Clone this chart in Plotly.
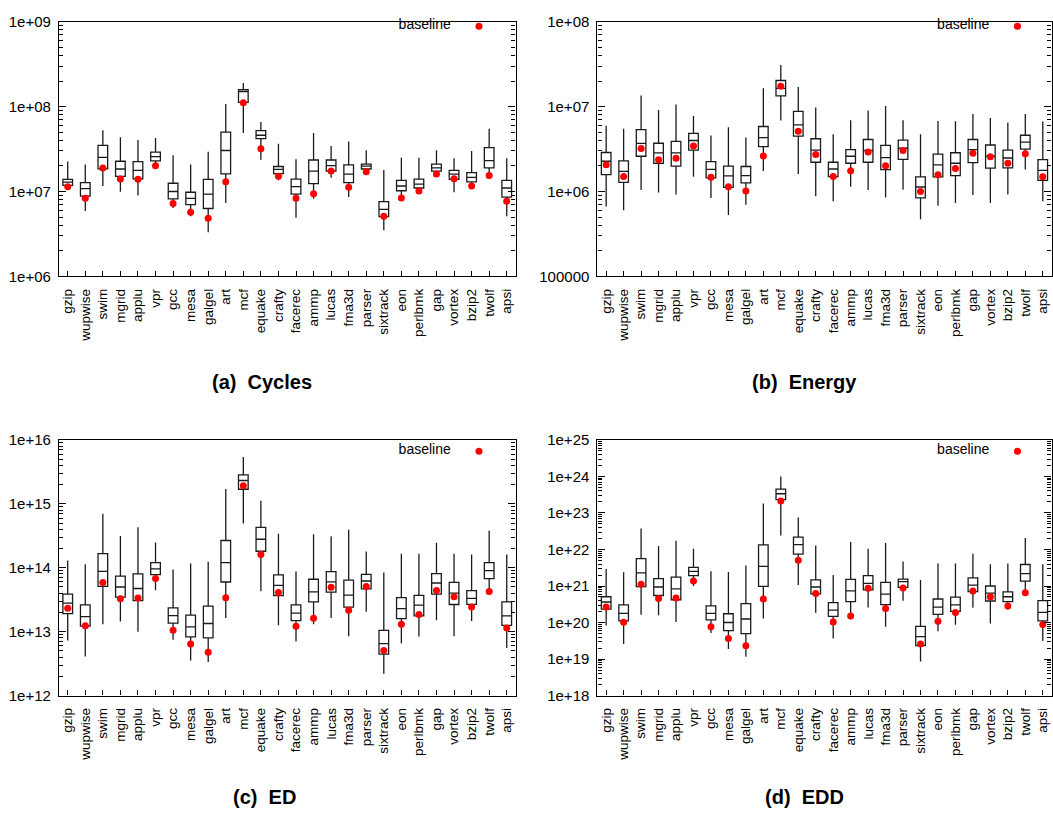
import plotly.graph_objects as go

benchmarks = ["gzip", "wupwise", "swim", "mgrid", "applu", "vpr", "gcc", "mesa", "galgel",
              "art", "mcf", "equake", "crafty", "facerec", "ammp", "lucas", "fma3d", "parser",
              "sixtrack", "eon", "perlbmk", "gap", "vortex", "bzip2", "twolf", "apsi"]

# ---- (a) Cycles ----
cycles_low = [1.1e7, 5.9e6, 1.16e7, 9.9e6, 9.0e6, 1.9e7, 6.4e6, 5.1e6, 3.3e6, 7.3e6, 4.9e7, 2.37e7, 1.36e7,
              4.9e6, 8.2e6, 1.45e7, 8.6e6, 1.62e7, 3.5e6, 8.0e6, 9.6e6, 1.55e7, 9.8e6, 1.1e7, 1.5e7, 5.1e6]
cycles_q1 = [1.18e7, 8.8e6, 1.85e7, 1.51e7, 1.41e7, 2.29e7, 8.2e6, 7.0e6, 6.3e6, 1.61e7, 1.12e8, 4.2e7, 1.62e7,
             9.3e6, 1.24e7, 1.74e7, 1.27e7, 1.84e7, 5.07e6, 1.02e7, 1.1e7, 1.74e7, 1.39e7, 1.3e7, 1.9e7, 8.6e6]
cycles_med = [1.29e7, 1.08e7, 2.52e7, 1.84e7, 1.77e7, 2.57e7, 1.0e7, 8.3e6, 9.3e6, 3.04e7, 1.5e8, 4.6e7, 1.82e7,
              1.14e7, 1.74e7, 2.02e7, 1.6e7, 1.99e7, 6.15e6, 1.16e7, 1.22e7, 1.9e7, 1.6e7, 1.47e7, 2.31e7, 1.1e7]
cycles_q3 = [1.39e7, 1.27e7, 3.5e7, 2.27e7, 2.25e7, 2.91e7, 1.25e7, 9.8e6, 1.39e7, 5.0e7, 1.58e8, 5.2e7, 1.97e7,
             1.4e7, 2.35e7, 2.35e7, 2.06e7, 2.1e7, 7.6e6, 1.35e7, 1.4e7, 2.1e7, 1.77e7, 1.67e7, 3.29e7, 1.35e7]
cycles_high = [2.25e7, 2.08e7, 5.25e7, 4.37e7, 4.03e7, 4.28e7, 2.68e7, 2.08e7, 2.93e7, 1.07e8, 1.9e8, 6.6e7, 3.65e7,
               2.4e7, 4.9e7, 3.43e7, 3.89e7, 3.07e7, 1.79e7, 2.5e7, 2.5e7, 3.07e7, 2.46e7, 3.0e7, 5.5e7, 2.46e7]
cycles_base = [1.14e7, 8.3e6, 1.89e7, 1.4e7, 1.39e7, 2.01e7, 7.2e6, 5.7e6, 4.85e6, 1.3e7, 1.11e8, 3.18e7, 1.51e7,
               8.3e6, 9.4e6, 1.74e7, 1.12e7, 1.71e7, 5.1e6, 8.4e6, 1.01e7, 1.61e7, 1.41e7, 1.16e7, 1.54e7, 7.7e6]

# ---- (b) Energy ----
energy_low = [6.67e5, 6.0e5, 1.04e6, 9.7e5, 9.2e5, 1.49e6, 8.4e5, 5.3e5, 7.0e5, 1.74e6, 6.84e6, 1.61e6, 8.8e5,
              7.7e5, 1.14e6, 1.04e6, 8.5e5, 1.05e6, 4.7e5, 6.8e5, 7.3e5, 9.1e5, 7.3e5, 9.2e5, 1.81e6, 7.7e5]
energy_q1 = [1.58e6, 1.28e6, 2.6e6, 2.14e6, 1.99e6, 3.07e6, 1.45e6, 1.12e6, 1.26e6, 3.38e6, 1.34e7, 4.48e6, 2.21e6,
             1.5e6, 2.15e6, 2.21e6, 1.81e6, 2.39e6, 8.4e5, 1.49e6, 1.54e6, 2.19e6, 1.89e6, 1.9e6, 3.15e6, 1.35e6]
energy_med = [2.27e6, 1.73e6, 3.69e6, 2.85e6, 2.85e6, 3.99e6, 1.82e6, 1.53e6, 1.54e6, 4.32e6, 1.64e7, 6.1e6, 3.07e6,
              1.84e6, 2.6e6, 3.04e6, 2.5e6, 3.23e6, 1.13e6, 2.06e6, 2.15e6, 3.12e6, 2.6e6, 2.48e6, 3.82e6, 1.77e6]
energy_q3 = [2.88e6, 2.29e6, 5.35e6, 3.7e6, 3.9e6, 4.85e6, 2.25e6, 1.99e6, 1.97e6, 5.83e6, 2.03e7, 8.77e6, 4.18e6,
             2.21e6, 3.12e6, 4.1e6, 3.5e6, 4.03e6, 1.49e6, 2.76e6, 2.86e6, 4.1e6, 3.53e6, 3.07e6, 4.6e6, 2.37e6]
energy_high = [5.94e6, 5.48e6, 1.35e7, 9.1e6, 1.06e7, 7.74e6, 4.56e6, 5.7e6, 4.32e6, 1.64e7, 3.09e7, 1.7e7, 9.75e6,
               4.72e6, 6.9e6, 9.0e6, 1.02e7, 6.9e6, 4.72e6, 6.78e6, 6.7e6, 8.2e6, 7.34e6, 6.49e6, 8.2e6, 6.67e6]
energy_base = [2.06e6, 1.5e6, 3.2e6, 2.37e6, 2.46e6, 3.44e6, 1.47e6, 1.14e6, 1.01e6, 2.62e6, 1.74e7, 5.12e6, 2.73e6,
               1.5e6, 1.76e6, 2.91e6, 2.01e6, 3.04e6, 1.0e6, 1.58e6, 1.87e6, 2.83e6, 2.57e6, 2.15e6, 2.78e6, 1.49e6]

# ---- (c) ED ----
ed_low = [7.3e12, 4.1e12, 1.3e13, 1.44e13, 1.0e13, 4.45e13, 7.45e12, 3.55e12, 3.35e12, 1.64e13, 4.91e14, 4.3e13,
          1.26e13, 7.0e12, 1.31e13, 1.64e13, 8.48e12, 2.05e13, 2.2e12, 6.6e12, 8.4e12, 1.51e13, 8.5e12, 1.47e13,
          4.25e13, 5.55e12]
ed_q1 = [1.91e13, 1.22e13, 5.1e13, 3.48e13, 3.06e13, 7.8e13, 1.36e13, 8.28e12, 8.0e12, 5.98e13, 1.69e15, 1.81e14,
         3.65e13, 1.49e13, 2.92e13, 4.15e13, 2.42e13, 4.67e13, 4.44e12, 1.6e13, 1.76e13, 3.87e13, 2.66e13, 2.68e13,
         6.74e13, 1.25e13]
ed_med = [2.79e13, 1.72e13, 8.8e13, 5.0e13, 4.73e13, 9.57e13, 1.78e13, 1.19e13, 1.34e13, 1.2e14, 2.32e15, 2.79e14,
          5.3e13, 1.95e13, 4.2e13, 6.0e13, 3.73e13, 6.2e13, 6.5e12, 2.3e13, 2.6e13, 5.77e13, 4.0e13, 3.32e13,
          9.0e13, 1.76e13]
ed_q3 = [3.87e13, 2.62e13, 1.66e14, 7.4e13, 8.0e13, 1.2e14, 2.36e13, 1.82e13, 2.51e13, 2.67e14, 2.84e15, 4.27e14,
         7.74e13, 2.62e13, 6.6e13, 8.7e13, 6.4e13, 7.9e13, 1.05e13, 3.4e13, 3.69e13, 8.1e13, 5.9e13, 4.4e13,
         1.2e14, 2.92e13]
ed_high = [1.3e14, 1.13e14, 7.0e14, 3.14e14, 4.3e14, 2.48e14, 9.35e13, 1.17e14, 1.24e14, 1.71e15, 5.42e15, 1.12e15,
           3.41e14, 8.7e13, 3.33e14, 3.1e14, 3.93e14, 1.79e14, 8.4e13, 1.66e14, 1.66e14, 2.45e14, 1.66e14, 1.61e14,
           3.79e14, 1.61e14]
ed_base = [2.33e13, 1.24e13, 5.9e13, 3.28e13, 3.36e13, 6.8e13, 1.05e13, 6.4e12, 4.77e12, 3.4e13, 1.92e15, 1.61e14,
           4.1e13, 1.22e13, 1.62e13, 4.96e13, 2.17e13, 5.07e13, 5.05e12, 1.3e13, 1.86e13, 4.4e13, 3.52e13, 2.42e13,
           4.25e13, 1.14e13]

# ---- (d) EDD ----
edd_low = [8.3e19, 2.57e19, 1.64e20, 1.57e20, 1.04e20, 1.0e21, 5.17e19, 1.89e19, 1.15e19, 1.28e20, 2.42e22, 1.06e21,
           1.85e20, 3.65e19, 1.23e20, 2.57e20, 7.65e19, 3.96e20, 8.5e18, 5.74e19, 8.7e19, 2.52e20, 9.4e19, 2.28e20,
           6.5e20, 3.1e19]
edd_q1 = [2.32e20, 1.11e20, 9.6e20, 5.5e20, 4.2e20, 1.93e21, 1.18e20, 5.98e19, 4.97e19, 9.8e20, 2.32e23, 7.5e21,
          6.1e20, 1.48e20, 3.73e20, 7.8e20, 3.1e20, 9.2e20, 2.32e19, 1.67e20, 2.01e20, 7.05e20, 3.88e20, 3.73e20,
          1.36e21, 1.11e20]
edd_med = [3.65e20, 1.78e20, 2.28e21, 9.4e20, 8.3e20, 2.52e21, 1.78e20, 1.0e20, 1.25e20, 3.43e21, 3.36e23, 1.36e22,
           9.4e20, 2.18e20, 7.35e20, 1.18e21, 6.0e20, 1.31e21, 4.13e19, 2.63e20, 3.03e20, 1.06e21, 6.36e20, 5.07e20,
           2.18e21, 1.89e20]
edd_q3 = [5.07e20, 3.03e20, 5.62e21, 1.6e21, 1.74e21, 3.23e21, 2.85e20, 1.74e20, 3.3e20, 1.33e22, 4.49e23, 2.18e22,
          1.48e21, 3.5e20, 1.51e21, 1.93e21, 1.25e21, 1.54e21, 7.8e19, 4.4e20, 4.97e20, 1.67e21, 1.0e21, 6.9e20,
          3.88e21, 3.96e20]
edd_high = [2.91e21, 2.37e21, 3.73e22, 1.25e22, 1.74e22, 1.04e22, 2.52e21, 2.42e21, 3.65e21, 1.82e23, 1.0e24, 7.5e22,
            1.28e22, 2.01e21, 1.6e22, 1.04e22, 1.51e22, 4.68e21, 1.45e21, 4.13e21, 4.13e21, 7.66e21, 3.96e21, 4.13e21,
            2.06e22, 3.96e21]
edd_base = [2.68e20, 1.02e20, 1.11e21, 4.58e20, 4.67e20, 1.36e21, 7.66e19, 3.65e19, 2.32e19, 4.4e20, 2.14e23, 5.07e21,
            6.2e20, 1.04e20, 1.51e20, 8.66e20, 2.42e20, 8.8e20, 2.57e19, 1.09e20, 1.89e20, 7.35e20, 5.07e20, 2.85e20,
            6.5e20, 8.8e19]

# tick labels
cycles_ticks = [1e6, 1e7, 1e8, 1e9]
cycles_ticktext = ["1e+06", "1e+07", "1e+08", "1e+09"]
energy_ticks = [1e5, 1e6, 1e7, 1e8]
energy_ticktext = ["100000", "1e+06", "1e+07", "1e+08"]
ed_ticks = [1e12, 1e13, 1e14, 1e15, 1e16]
ed_ticktext = ["1e+12", "1e+13", "1e+14", "1e+15", "1e+16"]
edd_ticks = [1e18, 1e19, 1e20, 1e21, 1e22, 1e23, 1e24, 1e25]
edd_ticktext = ["1e+18", "1e+19", "1e+20", "1e+21", "1e+22", "1e+23", "1e+24", "1e+25"]

panel_titles = ["(a)\u00a0 Cycles", "(b)\u00a0 Energy", "(c)\u00a0 ED", "(d)\u00a0 EDD"]

W, H = 1053, 825
FONT = "Liberation Sans, Arial, Helvetica, sans-serif"

panels = [
    dict(stats=(cycles_low, cycles_q1, cycles_med, cycles_q3, cycles_high, cycles_base),
         ticks=cycles_ticks, ticktext=cycles_ticktext, yr=[6, 9],
         box=(59, 516, 13, 273), title_xy=(262, 381), leg=(397, 18)),
    dict(stats=(energy_low, energy_q1, energy_med, energy_q3, energy_high, energy_base),
         ticks=energy_ticks, ticktext=energy_ticktext, yr=[5, 8],
         box=(598, 1052.5, 13, 273), title_xy=(805, 381), leg=(936, 18)),
    dict(stats=(ed_low, ed_q1, ed_med, ed_q3, ed_high, ed_base),
         ticks=ed_ticks, ticktext=ed_ticktext, yr=[12, 16],
         box=(59, 516, 440, 701), title_xy=(265, 805), leg=(397, 452)),
    dict(stats=(edd_low, edd_q1, edd_med, edd_q3, edd_high, edd_base),
         ticks=edd_ticks, ticktext=edd_ticktext, yr=[18, 25],
         box=(598, 1052.5, 440, 701), title_xy=(805, 805), leg=(936, 452)),
]

fig = go.Figure()
layout = dict(width=W, height=H, autosize=False, margin=dict(l=0, r=0, t=0, b=0),
              paper_bgcolor="white", plot_bgcolor="white",
              font=dict(family=FONT, size=14, color="black"),
              annotations=[])

for i, p in enumerate(panels, start=1):
    lo, q1, med, q3, hi, base = p["stats"]
    xa = "x" if i == 1 else f"x{i}"
    ya = "y" if i == 1 else f"y{i}"
    leg = "legend" if i == 1 else f"legend{i}"
    fig.add_trace(go.Box(
        x=benchmarks, q1=q1, median=med, q3=q3, lowerfence=lo, upperfence=hi,
        xaxis=xa, yaxis=ya, boxpoints=False, whiskerwidth=0, width=0.55,
        fillcolor="white", line=dict(color="#1a1a1a", width=1.3),
        showlegend=False, hoverinfo="skip"))
    fig.add_trace(go.Scatter(
        x=benchmarks, y=base, mode="markers", xaxis=xa, yaxis=ya,
        marker=dict(color="#ff0000", size=7, symbol="circle"),
        name=" ", legend=leg, showlegend=True))

    lo_dec, hi_dec = p["yr"]
    minor_vals = [m * 10.0 ** d for d in range(lo_dec, hi_dec) for m in range(2, 10)]

    x0, x1, y0, y1 = p["box"]
    xkey = "xaxis" if i == 1 else f"xaxis{i}"
    ykey = "yaxis" if i == 1 else f"yaxis{i}"
    layout[xkey] = dict(
        domain=[x0 / W, x1 / W], anchor=ya, type="category",
        range=[-0.5, len(benchmarks) - 0.5],
        showline=True, linecolor="black", linewidth=1.2, mirror=True,
        ticks="inside", ticklen=5, tickcolor="black", tickwidth=1,
        tickangle=-90, tickfont=dict(size=13.5, family=FONT), ticklabelstandoff=6,
        showgrid=False, zeroline=False, fixedrange=True)
    layout[ykey] = dict(
        domain=[1 - y1 / H, 1 - y0 / H], anchor=xa, type="log", range=p["yr"],
        tickmode="array", tickvals=p["ticks"], ticktext=p["ticktext"],
        showline=True, linecolor="black", linewidth=1.2, mirror="allticks",
        ticks="inside", ticklen=7, tickcolor="black", tickwidth=1,
        minor=dict(tickmode="array", tickvals=minor_vals, ticks="inside", ticklen=4,
                   tickcolor="black", tickwidth=1, showgrid=False),
        tickfont=dict(size=15, family=FONT), ticklabelstandoff=4,
        showgrid=False, zeroline=False, fixedrange=True)
    lx, ly = p["leg"]
    layout[leg] = dict(
        x=lx / W, y=1 - ly / H, xanchor="left", yanchor="middle",
        bgcolor="rgba(0,0,0,0)", borderwidth=0,
        title=dict(text="baseline", side="left", font=dict(size=14, family=FONT)),
        font=dict(size=14, family=FONT), itemsizing="trace")
    tx, ty = p["title_xy"]
    layout["annotations"].append(dict(
        text=f"<b>{panel_titles[i - 1]}</b>", x=tx / W, y=1 - ty / H,
        xref="paper", yref="paper", showarrow=False, xanchor="center", yanchor="middle",
        font=dict(size=20, family=FONT, color="black")))

fig.update_layout(**layout)
fig.write_html("out.html", config={"displayModeBar": False},
               post_script="document.body.style.margin='0';")
